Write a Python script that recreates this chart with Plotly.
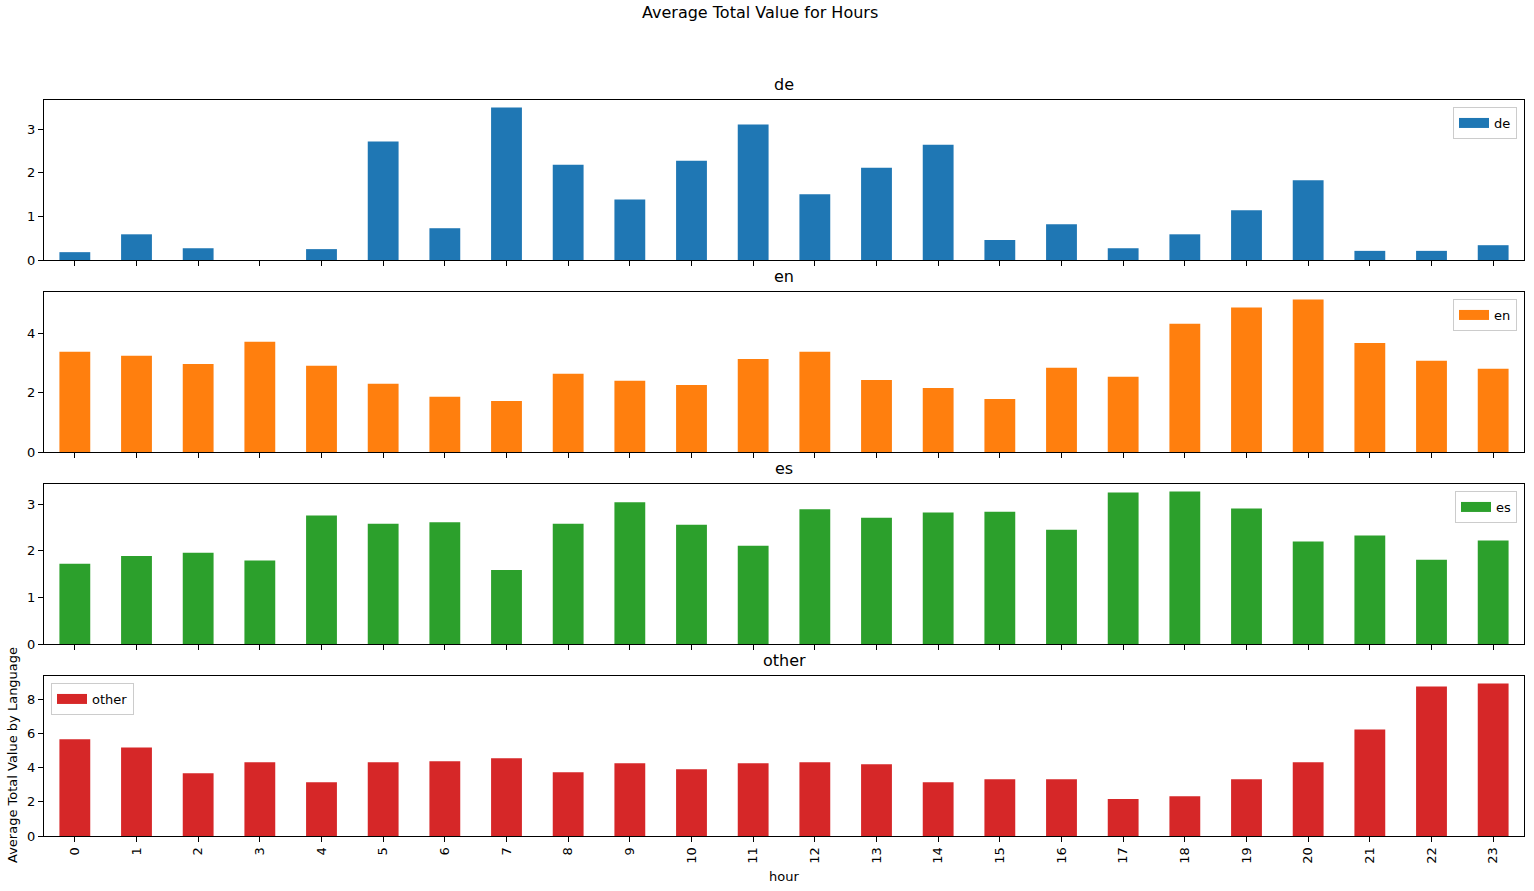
import plotly.graph_objects as go

hours = list(range(24))
hour_labels = [str(h) for h in hours]
languages = ["de", "en", "es", "other"]
colors = ["#1f77b4", "#ff7f0e", "#2ca02c", "#d62728"]

de = [0.18, 0.59, 0.27, 0.0, 0.25, 2.72, 0.73, 3.50, 2.19, 1.39, 2.28, 3.11,
      1.51, 2.12, 2.65, 0.46, 0.82, 0.27, 0.59, 1.14, 1.83, 0.21, 0.21, 0.34]
en = [3.38, 3.25, 2.97, 3.72, 2.91, 2.30, 1.86, 1.72, 2.64, 2.40, 2.26, 3.14,
      3.38, 2.43, 2.16, 1.79, 2.84, 2.54, 4.33, 4.87, 5.14, 3.68, 3.08, 2.81]
es = [1.72, 1.89, 1.96, 1.79, 2.76, 2.58, 2.61, 1.59, 2.58, 3.04, 2.56, 2.11,
      2.89, 2.71, 2.82, 2.84, 2.45, 3.25, 3.27, 2.91, 2.20, 2.33, 1.81, 2.22]
other = [5.65, 5.18, 3.67, 4.31, 3.15, 4.31, 4.37, 4.54, 3.73, 4.25, 3.90, 4.25,
         4.31, 4.19, 3.15, 3.32, 3.32, 2.16, 2.33, 3.32, 4.31, 6.23, 8.74, 8.91]
series = [de, en, es, other]
dticks = [1, 2, 1, 2]

W, H = 1534, 891
L, R, T, B = 44, 10, 100, 54
plot_h = H - T - B
plot_w = W - L - R
panel_h = 160
gap = 32
font = "DejaVu Sans"

fig = go.Figure()
layout = dict(
    width=W, height=H,
    margin=dict(l=L, r=R, t=T, b=B),
    paper_bgcolor="white", plot_bgcolor="white",
    font=dict(family=font, size=13, color="black"),
    showlegend=True,
)
annotations = []
for i, (lang, vals, col, dt) in enumerate(zip(languages, series, colors, dticks)):
    n = i + 1
    xa = "x" if n == 1 else f"x{n}"
    ya = "y" if n == 1 else f"y{n}"
    lg = "legend" if n == 1 else f"legend{n}"
    top_px = i * (panel_h + gap)
    top = 1 - top_px / plot_h
    bot = 1 - (top_px + panel_h) / plot_h
    fig.add_trace(go.Bar(x=hours, y=vals, name=lang, marker=dict(color=col, line=dict(width=0)),
                         width=0.5, xaxis=xa, yaxis=ya, showlegend=False))
    # legend entry drawn as a wide patch
    fig.add_trace(go.Scatter(x=[None], y=[None], mode="lines", name=lang,
                             line=dict(color=col, width=10), xaxis=xa, yaxis=ya,
                             legend=lg, hoverinfo="skip"))
    xkey = "xaxis" if n == 1 else f"xaxis{n}"
    ykey = "yaxis" if n == 1 else f"yaxis{n}"
    layout[xkey] = dict(
        domain=[0, 1], anchor=ya, range=[-0.5, 23.5],
        tickmode="array", tickvals=hours,
        ticktext=hour_labels if n == 4 else [""] * 24,
        tickangle=-90, ticks="outside", ticklen=5, tickcolor="black",
        showline=True, linecolor="black", linewidth=1, mirror=True,
        showgrid=False, zeroline=False, tickfont=dict(size=13),
    )
    if n > 1:
        layout[xkey]["matches"] = "x"
    layout[ykey] = dict(
        domain=[bot, top], anchor=xa, range=[0, max(vals) * 1.05],
        dtick=dt, tick0=0, ticks="outside", ticklen=5, tickcolor="black",
        showline=True, linecolor="black", linewidth=1, mirror=True,
        showgrid=False, zeroline=False, tickfont=dict(size=13),
    )
    if lang == "other":
        lx, lxa = 7 / plot_w, "left"
    else:
        lx, lxa = 1 - 7 / plot_w, "right"
    layout[lg] = dict(
        x=lx, xanchor=lxa, y=top - 7 / plot_h, yanchor="top",
        xref="paper", yref="paper",
        bgcolor="rgba(255,255,255,0.8)", bordercolor="#cccccc", borderwidth=1,
        font=dict(size=13, family=font), tracegroupgap=0,
    )
    annotations.append(dict(
        text=lang, x=0.5, xref="paper", y=top, yref="paper",
        xanchor="center", yanchor="bottom", yshift=4, showarrow=False,
        font=dict(size=16, family=font),
    ))

annotations.append(dict(
    text="Average Total Value for Hours", x=(760 - L) / plot_w, xref="paper",
    y=1 + (T - 12) / plot_h, yref="paper", xanchor="center", yanchor="middle",
    showarrow=False, font=dict(size=16, family=font),
))
annotations.append(dict(
    text="hour", x=0.5, xref="paper", y=-(876 - (H - B)) / plot_h, yref="paper",
    xanchor="center", yanchor="middle", showarrow=False, font=dict(size=13, family=font),
))
annotations.append(dict(
    text="Average Total Value by Language", x=(12 - L) / plot_w, xref="paper",
    y=1 - (755 - T) / plot_h, yref="paper", xanchor="center", yanchor="middle",
    textangle=-90, showarrow=False, font=dict(size=13, family=font),
))
layout["annotations"] = annotations
fig.update_layout(**layout)
fig.write_html("out.html", config={"displayModeBar": False},
               post_script="document.body.style.margin='0px';document.body.style.overflow='hidden';")
